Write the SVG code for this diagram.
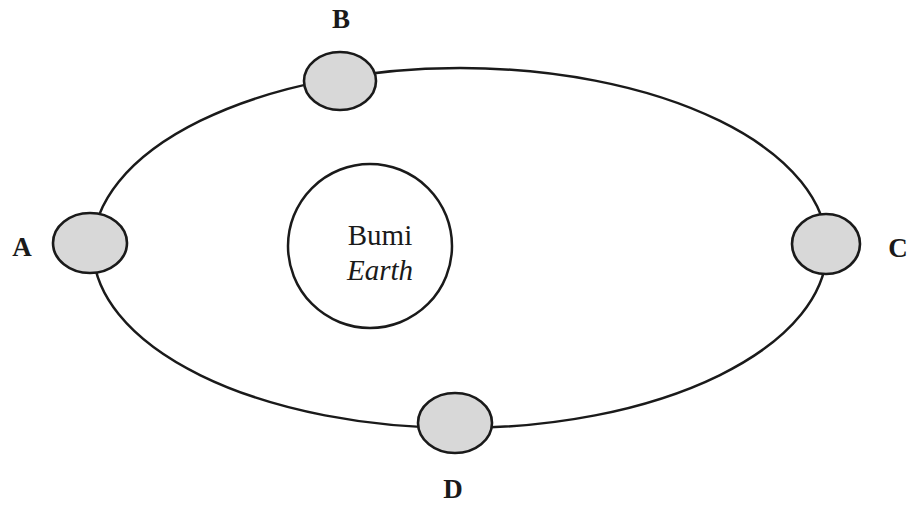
<svg xmlns="http://www.w3.org/2000/svg" width="907" height="506" viewBox="0 0 907 506">
<style>
.orbit{fill:none;stroke:#1a1a1a;stroke-width:2.5}
.moon{fill:#d8d8d8;stroke:#1a1a1a;stroke-width:2.6}
.earth{fill:#fff;stroke:#1a1a1a;stroke-width:2.5}
.lbl{font-family:"Liberation Serif","DejaVu Serif",serif;font-weight:bold;font-size:27px;fill:#1a1a1a;text-anchor:middle}
.txt{font-family:"Liberation Serif","DejaVu Serif",serif;font-weight:normal;font-size:29px;fill:#1a1a1a;text-anchor:middle}
.it{font-style:italic}
</style>
<rect width="907" height="506" fill="#fff"/>
<g id="connectors">
<ellipse class="orbit" cx="460" cy="248" rx="367" ry="180"/>
</g>
<g id="earth">
<circle class="earth" cx="370" cy="246" r="82"/>
<text class="txt" x="380" y="245">Bumi</text>
<text class="txt it" x="380" y="280">Earth</text>
</g>
<g id="A">
<ellipse class="moon" cx="90" cy="243" rx="37" ry="30"/>
<text class="lbl" x="22" y="256">A</text>
</g>
<g id="B">
<ellipse class="moon" cx="340" cy="81" rx="36" ry="29"/>
<text class="lbl" x="341" y="28">B</text>
</g>
<g id="C">
<ellipse class="moon" cx="826" cy="244" rx="34" ry="30"/>
<text class="lbl" x="898" y="257">C</text>
</g>
<g id="D">
<ellipse class="moon" cx="455" cy="423" rx="37" ry="30"/>
<text class="lbl" x="453" y="498">D</text>
</g>
</svg>
